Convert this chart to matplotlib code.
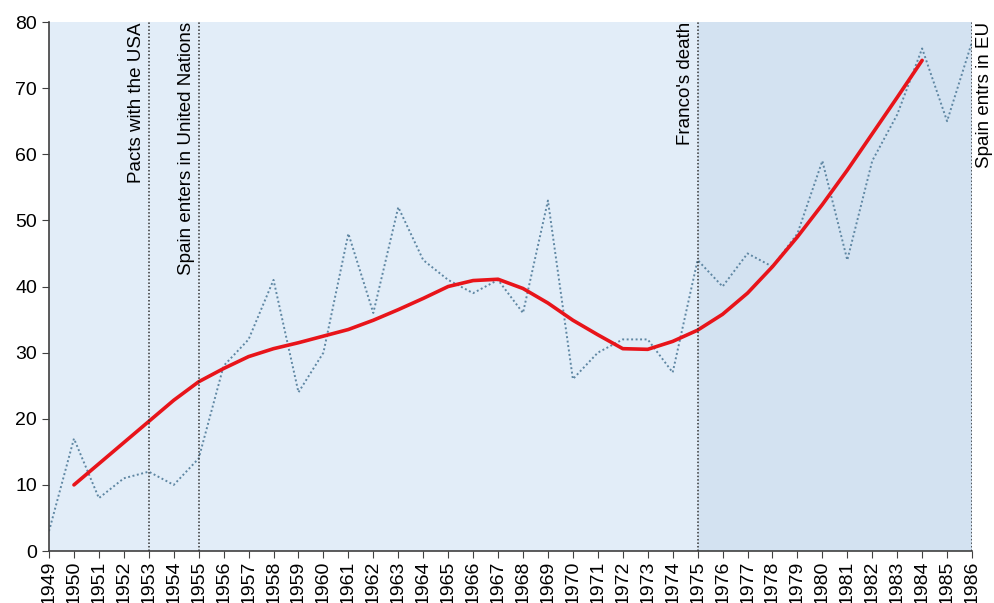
import matplotlib.pyplot as plt

plt.rcParams['font.family'] = ['Liberation Sans', 'DejaVu Sans']

# datos anuales (linea punteada)
years = list(range(1949, 1987))
values = [3, 17, 8, 11, 12, 10, 14, 28, 32, 41, 24, 30, 48, 36, 52, 44, 41, 39, 41, 36,
          53, 26, 30, 32, 32, 27, 44, 40, 45, 43, 48, 59, 44, 59, 66, 76, 65, 77]

# tendencia (linea roja) 1950-1984
trend_years = list(range(1950, 1985))
trend = [10, 13.2, 16.4, 19.6, 22.8, 25.6, 27.6, 29.4, 30.6, 31.5, 32.5, 33.5, 34.9,
         36.5, 38.2, 40.0, 40.9, 41.1, 39.7, 37.5, 34.9, 32.7, 30.6, 30.5, 31.7, 33.4,
         35.8, 39.0, 43.0, 47.5, 52.4, 57.6, 63.1, 68.6, 74.2]

# eventos
event_years = [1953, 1955, 1975, 1986]
event_labels = ['Pacts with the USA', 'Spain enters in United Nations', "Franco's death", 'Spain entrs in EU']

fig = plt.figure(figsize=(9.94, 6.03), dpi=100)
ax = fig.add_axes([0.0493, 0.0862, 0.9286, 0.8773])

ax.axvspan(1949, 1975, color='#e2edf8', zorder=0, lw=0)
ax.axvspan(1975, 1986, color='#d3e2f1', zorder=0, lw=0)

ax.plot(years, values, linestyle=(0, (1, 1.3)), color='#5f87a3', lw=1.4, zorder=2)
ax.plot(trend_years, trend, color='#e8141a', lw=2.6, zorder=3, solid_capstyle='round',
        solid_joinstyle='round')

for i, (yr, lab) in enumerate(zip(event_years, event_labels)):
    ax.axvline(yr, color='#333333', linestyle=(0, (1, 1.3)), lw=1.1, zorder=4)
    if i == 3:
        ax.text(yr + 0.15, 80, lab, rotation=90, ha='left', va='top', fontsize=13.5)
    else:
        ax.text(yr - 0.15, 80, lab, rotation=90, ha='right', va='top', fontsize=13.5)

ax.set_xlim(1949, 1986)
ax.set_ylim(0, 80)
ax.set_xticks(years)
ax.set_xticklabels([str(y) for y in years], rotation=90)
ax.set_yticks(range(0, 81, 10))
ax.tick_params(axis='y', labelsize=14, direction='out', length=5, color='#404040')
ax.tick_params(axis='x', labelsize=14, direction='out', length=5, color='#404040', pad=2)

for s in ['top', 'right']:
    ax.spines[s].set_visible(False)
for s in ['left', 'bottom']:
    ax.spines[s].set_color('#404040')
    ax.spines[s].set_linewidth(1.2)

plt.savefig('out.png', dpi=100)
